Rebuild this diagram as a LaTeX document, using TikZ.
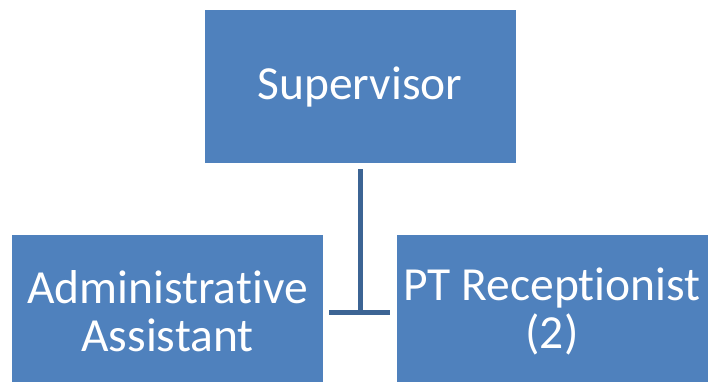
\documentclass[tikz,border=0pt]{standalone}
\usepackage{fontspec}
\setmainfont[RawFeature=-liga]{Carlito}
\definecolor{boxblue}{HTML}{4F81BD}
\definecolor{lineblue}{HTML}{3C6494}
\begin{document}
\begin{tikzpicture}[x=1pt,y=-1pt,
  orgbox/.style={fill=boxblue, draw=none, minimum width=311pt, minimum height=153pt,
    inner sep=0pt, align=center, text=white, font=\fontsize{47.5}{48}\selectfont},
  conn/.style={draw=lineblue, line width=5pt}]
\useasboundingbox (0,0) rectangle (709,381);
\clip (0,0) rectangle (709,381);
\node[orgbox] (sup) at (360,86.5) {Supervisor};
\node[orgbox] (adm) at (167.5,311.5) {Administrative\\Assistant};
\node[orgbox] (rec) at (552,311.5) {PT Receptionist\\(2)};
\coordinate (top) at ([yshift=-6pt]sup.south);
\coordinate (junc) at (360,312);
\coordinate (hl) at (329,312);
\coordinate (hr) at (390,312);
\draw[conn] (top) -- (junc);
\draw[conn] (hl) -- (hr);
\end{tikzpicture}
\end{document}
